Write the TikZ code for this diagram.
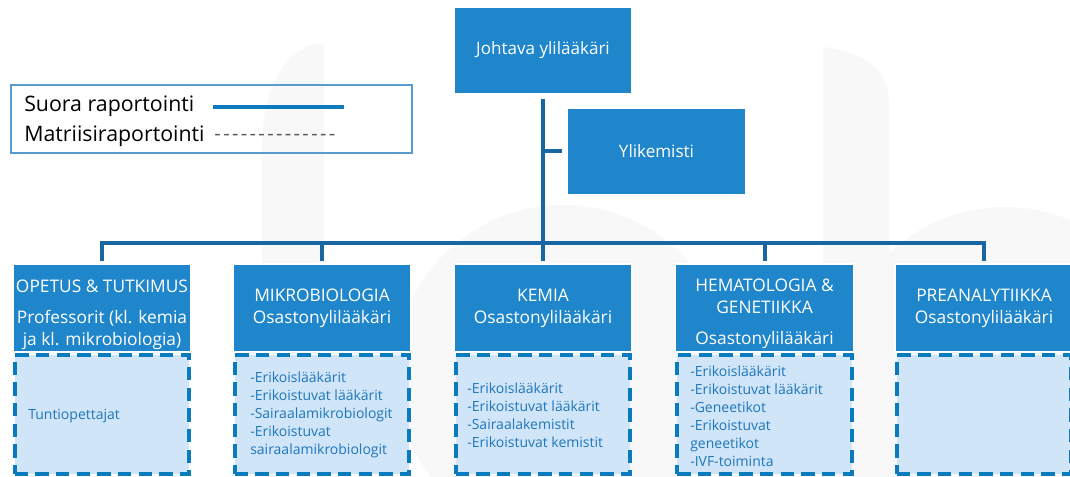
\documentclass[tikz,border=0pt]{standalone}
\usepackage{fontspec}
\setmainfont{Open Sans}
\definecolor{hdrblue}{RGB}{31,134,203}
\definecolor{connc}{RGB}{24,102,162}
\definecolor{lite}{RGB}{208,229,247}
\definecolor{dashc}{RGB}{10,124,190}
\definecolor{listc}{RGB}{30,118,188}
\definecolor{legb}{RGB}{90,155,205}
\definecolor{legline}{RGB}{12,122,188}
\definecolor{wm}{RGB}{248,248,248}
\newcommand\hy{\hbox to 6.6pt{\hss-\hss}}
\begin{document}
\begin{tikzpicture}[x=0.75pt,y=-0.75pt,
  topbox/.style={fill=hdrblue, draw=white, line width=1.2pt, text=white, inner sep=0pt,
    minimum width=133.5pt, minimum height=65.25pt, font=\fontsize{12.8}{15}\selectfont},
  hdr/.style={fill=hdrblue, draw=white, line width=1.2pt, text=white, inner sep=0pt,
    minimum width=133.5pt, minimum height=66pt, align=center,
    font=\fontsize{13}{16.5}\selectfont},
  sub/.style={fill=lite, draw=dashc, line width=3pt, dash pattern=on 10pt off 5.5pt,
    minimum width=131pt, minimum height=89.5pt, inner sep=0pt},
  listtxt/.style={text=listc, inner sep=0pt, align=left, anchor=west,
    font=\fontsize{10.5}{13.5}\selectfont},
  legtxt/.style={text=black, inner sep=0pt, anchor=base west, font=\fontsize{16}{18}\selectfont},
  conn/.style={draw=connc, line width=3pt}]
\useasboundingbox (0,0) rectangle (1070,477);
% faint watermark
\fill[wm] (262,477) -- (262,150) .. controls (262,80) and (290,45) .. (324,43) -- (324,477) -- cycle;
\fill[wm] (823,477) -- (823,47) .. controls (860,50) and (889,70) .. (889,100) -- (889,477) -- cycle;
\fill[wm] (563,373) circle[radius=168];
\fill[wm] (1005,375) circle[radius=168];
% legend
\node[draw=legb, line width=1.1pt, minimum width=300.75pt, minimum height=51pt, inner sep=0pt] (leg) at (211.5,119) {};
\node[legtxt] (lt1) at (24,112) {Suora raportointi};
\node[legtxt] (lt2) at (24,142) {Matriisiraportointi};
\coordinate (ls1) at (213,107);
\coordinate (ls2) at (344,107);
\draw[draw=legline, line width=3pt] (ls1) -- (ls2);
\node[legtxt, text=black!65, font=\fontsize{15}{18}\selectfont] (ld) at (213,141) {\hy\hy\hy\hy\hy\hy\hy\hy\hy\hy\hy\hy\hy\hy};
% top boxes
\node[topbox] (chief) at (543,50.5) {Johtava ylilääkäri};
\node[topbox, minimum width=134.25pt] (ylik) at (656.5,151.5) {Ylikemisti};
\coordinate (bus) at (543,243);
% sub boxes
\node[sub] (s1) at (102,414.5) {};
\node[sub] (s2) at (322,414.5) {};
\node[sub] (s3) at (543,414.5) {};
\node[sub] (s4) at (764.5,414.5) {};
\node[sub] (s5) at (984,414.5) {};
% headers
\node[hdr] (h1) at (102,308) {\rule{0pt}{20pt}OPETUS \& TUTKIMUS\\[7pt]Professorit (kl. kemia\\ja kl. mikrobiologia)};
\node[hdr] (h2) at (322,308) {MIKROBIOLOGIA\\Osastonylilääkäri};
\node[hdr] (h3) at (543,308) {KEMIA\\Osastonylilääkäri};
\node[hdr] (h4) at (764.5,308) {\rule{0pt}{18pt}HEMATOLOGIA \&\\GENETIIKKA\\[6.5pt]Osastonylilääkäri};
\node[hdr] (h5) at (984,308) {PREANALYTIIKKA\\Osastonylilääkäri};
% list texts
\node[listtxt] (l1) at (28,416) {Tuntiopettajat};
\node[listtxt] (l2) at (250,415) {-Erikoislääkärit\\-Erikoistuvat lääkärit\\-Sairaalamikrobiologit\\-Erikoistuvat\\sairaalamikrobiologit};
\node[listtxt] (l3) at (467,415) {-Erikoislääkärit\\-Erikoistuvat lääkärit\\-Sairaalakemistit\\-Erikoistuvat kemistit};
\node[listtxt] (l4) at (690,416.5) {-Erikoislääkärit\\-Erikoistuvat lääkärit\\-Geneetikot\\-Erikoistuvat\\geneetikot\\-IVF-toiminta};
% connectors
\draw[conn, shorten <=3pt] (chief.south) -- (bus);
\draw[conn, shorten >=3pt] (chief.south |- ylik.west) -- (ylik.west);
\draw[conn, shorten <=1.5pt, shorten >=1.5pt] (h1.north) -- (h1.north |- bus) -| (h5.north);
\draw[conn, shorten <=1.5pt] (h2.north) -- (h2.north |- bus);
\draw[conn, shorten <=1.5pt] (h3.north) -- (bus);
\draw[conn, shorten <=1.5pt] (h4.north) -- (h4.north |- bus);
\end{tikzpicture}
\end{document}
